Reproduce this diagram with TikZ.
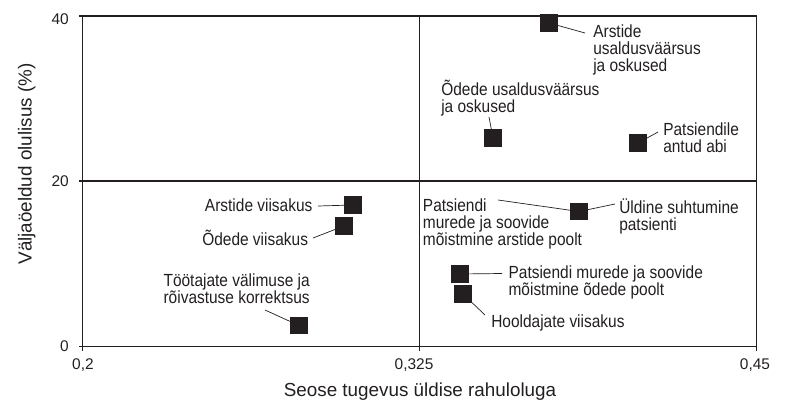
\documentclass[tikz,border=0pt]{standalone}
\usepackage{fontspec}
\setmainfont{Liberation Sans}
\newfontfamily\condfont[FakeStretch=0.88]{Liberation Sans}
\definecolor{ink}{HTML}{231F20}
\tikzset{
  point/.style={fill=ink, inner sep=0pt, minimum size=0.44cm},
  lbl/.style={inner sep=0pt, align=left, text=ink, font=\condfont\fontsize{12.5}{12}\selectfont},
  tick/.style={inner sep=0pt, text=ink, font=\fontsize{11}{11}\selectfont},
  axlabel/.style={inner sep=0pt, text=ink, font=\fontsize{13.4}{14}\selectfont},
  lead/.style={draw=ink, line width=0.5pt},
  frame/.style={draw=ink, line width=0.9pt}
}

\begin{document}
\begin{tikzpicture}[x=0.025cm, y=-0.025cm]
			%%%%% FRAME %%%%%
			\useasboundingbox (0,0) rectangle (790,402);
			\draw[frame] (82.7,16) rectangle (756.7,346.5);
			\draw[frame] (419.7,16) -- (419.7,346.5);
			\draw[frame] (82.7,181) -- (756.7,181);
			\foreach \y in {16,181,346.5}
				\draw[frame] (79,\y) -- (82.7,\y);
			\foreach \x in {82.7,419.7,756.7}
				\draw[frame] (\x,346.5) -- (\x,350.5);
			
			%%%%% AXES %%%%%
			\node[tick, anchor=east] (y40) at (69,19) {40};
			\node[tick, anchor=east] (y20) at (69,181) {20};
			\node[tick, anchor=east] (y0) at (69,346.5) {0};
			\node[tick, anchor=base] (x20) at (83,369) {0,2};
			\node[tick, anchor=base] (x325) at (414,369) {0,325};
			\node[tick, anchor=base] (x45) at (755,369) {0,45};
			\node[axlabel, anchor=base] (xlab) at (420,396) {Seose tugevus üldise rahuloluga};
			\node[axlabel, anchor=base, rotate=90] (ylab) at (31.7,164) {Väljaöeldud olulisus (\%)};
			
			%%%%% POINTS %%%%%
			\node[point] (arstusal) at (549,23) {};
			\node[point] (odeusal) at (493,138) {};
			\node[point] (abi) at (638,143) {};
			\node[point] (arstviis) at (353,205) {};
			\node[point] (odeviis) at (344,226) {};
			\node[point] (valimus) at (299,325.5) {};
			\node[point] (suhtumine) at (579,211.5) {};
			\node[point] (odemured) at (460,274) {};
			\node[point] (hooldviis) at (463,294) {};
			
			%%%%% LABELS %%%%%
			% base = baseline of the last line
			\node[lbl, anchor=base west] (l-arstusal) at (593,71.5) {Arstide\\usaldusväärsus\\ja oskused};
			\node[lbl, anchor=base west] (l-odeusal) at (441,112.5) {Õdede usaldusväärsus\\ja oskused};
			\node[lbl, anchor=base west] (l-abi) at (663,152.5) {Patsiendile\\antud abi};
			\node[lbl, anchor=base east] (l-arstviis) at (312.7,211) {Arstide viisakus};
			\node[lbl, anchor=base east] (l-odeviis) at (308.3,245) {Õdede viisakus};
			\node[lbl, anchor=base west] (l-valimus) at (163.3,303.5) {Töötajate välimuse ja\\rõivastuse korrektsus};
			\node[lbl, anchor=base west] (l-arstmured) at (422.7,245.5) {Patsiendi\\murede ja soovide\\mõistmine arstide poolt};
			\node[lbl, anchor=base west] (l-suhtumine) at (619,230) {Üldine suhtumine\\patsienti};
			\node[lbl, anchor=base west] (l-odemured) at (508.3,295) {Patsiendi murede ja soovide\\mõistmine õdede poolt};
			\node[lbl, anchor=base west] (l-hooldviis) at (491,327) {Hooldajate viisakus};
			
			%%%%% LEADERS %%%%%
			\coordinate (c-arstusal) at (585,33);
			\coordinate (c-odeusal) at (489,117);
			\coordinate (c-abi) at (658,132);
			\coordinate (c-arstviis) at (318,206);
			\coordinate (c-odeviis) at (313,238);
			\coordinate (c-valimus) at (265,310);
			\coordinate (c-arstmured) at (498,200);
			\coordinate (c-suhtumine) at (615,204);
			\coordinate (c-odemured) at (502,273.5);
			\coordinate (c-hooldviis) at (485,315);
			\draw[lead] (c-arstusal) -- (arstusal);
			\draw[lead] (c-odeusal) -- (odeusal);
			\draw[lead] (c-abi) -- (abi);
			\draw[lead] (c-arstviis) -- (arstviis);
			\draw[lead] (c-odeviis) -- (odeviis);
			\draw[lead] (c-valimus) -- (valimus);
			\draw[lead] (c-arstmured) -- (suhtumine);
			\draw[lead] (c-suhtumine) -- (suhtumine);
			\draw[lead] (c-odemured) -- (odemured);
			\draw[lead] (c-hooldviis) -- (hooldviis);
			%%%%% END %%%%%
\end{tikzpicture}
\end{document}
